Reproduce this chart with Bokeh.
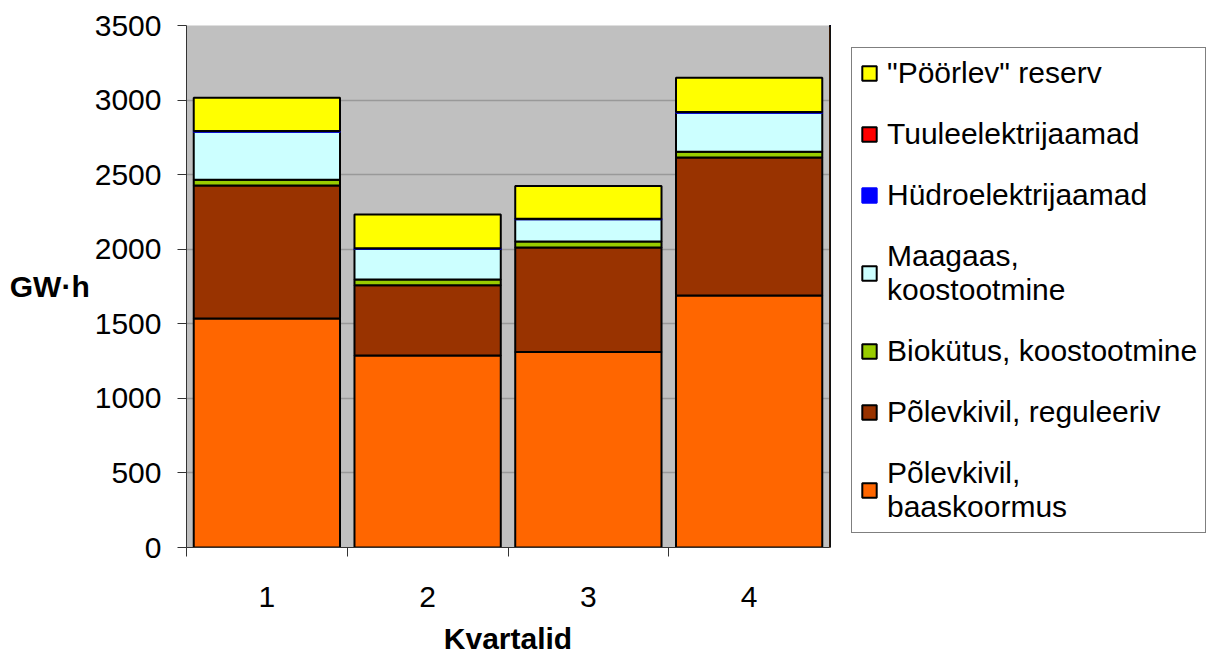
from bokeh.plotting import figure
from bokeh.layouts import row
from bokeh.models import Range1d, FixedTicker, SingleIntervalTicker, Legend, LegendItem, ColumnDataSource
from bokeh.embed import file_html
from bokeh.resources import INLINE

# ---- data (GW·h per quarter) ----
quarters = [1, 2, 3, 4]
baaskoormus = [1535, 1287, 1311, 1689]
reguleeriv = [892, 472, 700, 926]
biokytus = [38, 38, 40, 38]
maagaas = [322, 204, 150, 262]
hydro = [5, 5, 4, 5]
tuul = [0, 0, 0, 0]
reserv = [223, 226, 219, 230]

keys = ["baaskoormus", "reguleeriv", "biokytus", "maagaas", "hydro", "tuul", "reserv"]
labels = ["Põlevkivil,\nbaaskoormus", "Põlevkivil, reguleeriv", "Biokütus, koostootmine",
          "Maagaas,\nkoostootmine", "Hüdroelektrijaamad", "Tuuleelektrijaamad", '"Pöörlev" reserv']
colors = ["#FF6600", "#993300", "#99CC00", "#CCFFFF", "#0000FF", "#FF0000", "#FFFF00"]
line_colors = ["#000000", "#000000", "#000000", "#000000", "#0000FF", "#000000", "#000000"]

src = ColumnDataSource(dict(q=quarters, baaskoormus=baaskoormus, reguleeriv=reguleeriv,
                            biokytus=biokytus, maagaas=maagaas, hydro=hydro, tuul=tuul, reserv=reserv))

FONT = "Liberation Sans"
H = 657

p = figure(width=829, height=H, x_range=Range1d(0.5, 4.5), y_range=Range1d(0, 3500),
           output_backend="svg", toolbar_location=None,
           min_border_left=186, min_border_right=0, min_border_top=23, min_border_bottom=109)
p.background_fill_color = "#C0C0C0"
p.outline_line_color = None

rs = p.vbar_stack(keys, x="q", width=0.91, source=src, fill_color=colors,
                  line_color=line_colors, line_width=2)

# grid
p.xgrid.visible = False
p.ygrid.grid_line_color = "#999999"
p.ygrid.grid_line_width = 1.5

# y axis
p.yaxis.ticker = SingleIntervalTicker(interval=500, num_minor_ticks=0)
p.yaxis.major_tick_out = 9
p.yaxis.major_tick_in = 0
p.yaxis.minor_tick_out = 0
p.yaxis.major_label_standoff = 16
p.yaxis.axis_label = "GW·h"
try:
    p.yaxis.axis_label_orientation = "horizontal"
except Exception:
    pass
p.yaxis.axis_label_standoff = 2

# x axis
p.xaxis.ticker = FixedTicker(ticks=quarters, minor_ticks=[0.5, 1.5, 2.5, 3.5, 4.5])
p.xaxis.major_tick_out = 0
p.xaxis.major_tick_in = 0
p.xaxis.minor_tick_out = 9
p.xaxis.minor_tick_in = 0
p.xaxis.major_label_standoff = 30
p.xaxis.axis_label = "Kvartalid"
p.xaxis.axis_label_standoff = 12

for ax in (p.xaxis, p.yaxis):
    ax.axis_line_color = "#333333"
    ax.major_tick_line_color = "#333333"
    ax.minor_tick_line_color = "#333333"
    ax.major_label_text_font = FONT
    ax.major_label_text_font_size = "30px"
    ax.major_label_text_color = "#000000"
    ax.axis_label_text_font = FONT
    ax.axis_label_text_font_size = "30px"
    ax.axis_label_text_font_style = "bold"
    ax.axis_label_text_color = "#000000"

# ---- legend panel (separate figure to the right; its bars lie outside its view) ----
lf = figure(width=381, height=H, x_range=Range1d(100, 101), y_range=Range1d(0, 1),
            output_backend="svg", toolbar_location=None,
            x_axis_location=None, y_axis_location=None,
            min_border_left=0, min_border_right=0, min_border_bottom=0, min_border_top=25)
lf.outline_line_color = None
lf.xgrid.visible = False
lf.ygrid.grid_line_color = None
lf.background_fill_color = "#FFFFFF"

lrs = lf.vbar_stack(keys, x="q", width=0.91, source=src, fill_color=colors,
                    line_color=line_colors, line_width=2)

items = [LegendItem(label=labels[i], renderers=[lrs[i]]) for i in reversed(range(len(keys)))]
legend = Legend(items=items, location="top_left", margin=22, padding=8, spacing=27,
                glyph_width=18, glyph_height=18, label_standoff=9, label_height=34,
                label_text_font=FONT, label_text_font_size="30px", label_text_color="#000000",
                border_line_color="#000000", border_line_width=1,
                background_fill_color="#FFFFFF", background_fill_alpha=1.0)
lf.add_layout(legend)

layout = row(p, lf, spacing=0)
open("out.html", "w").write(file_html(layout, INLINE))
